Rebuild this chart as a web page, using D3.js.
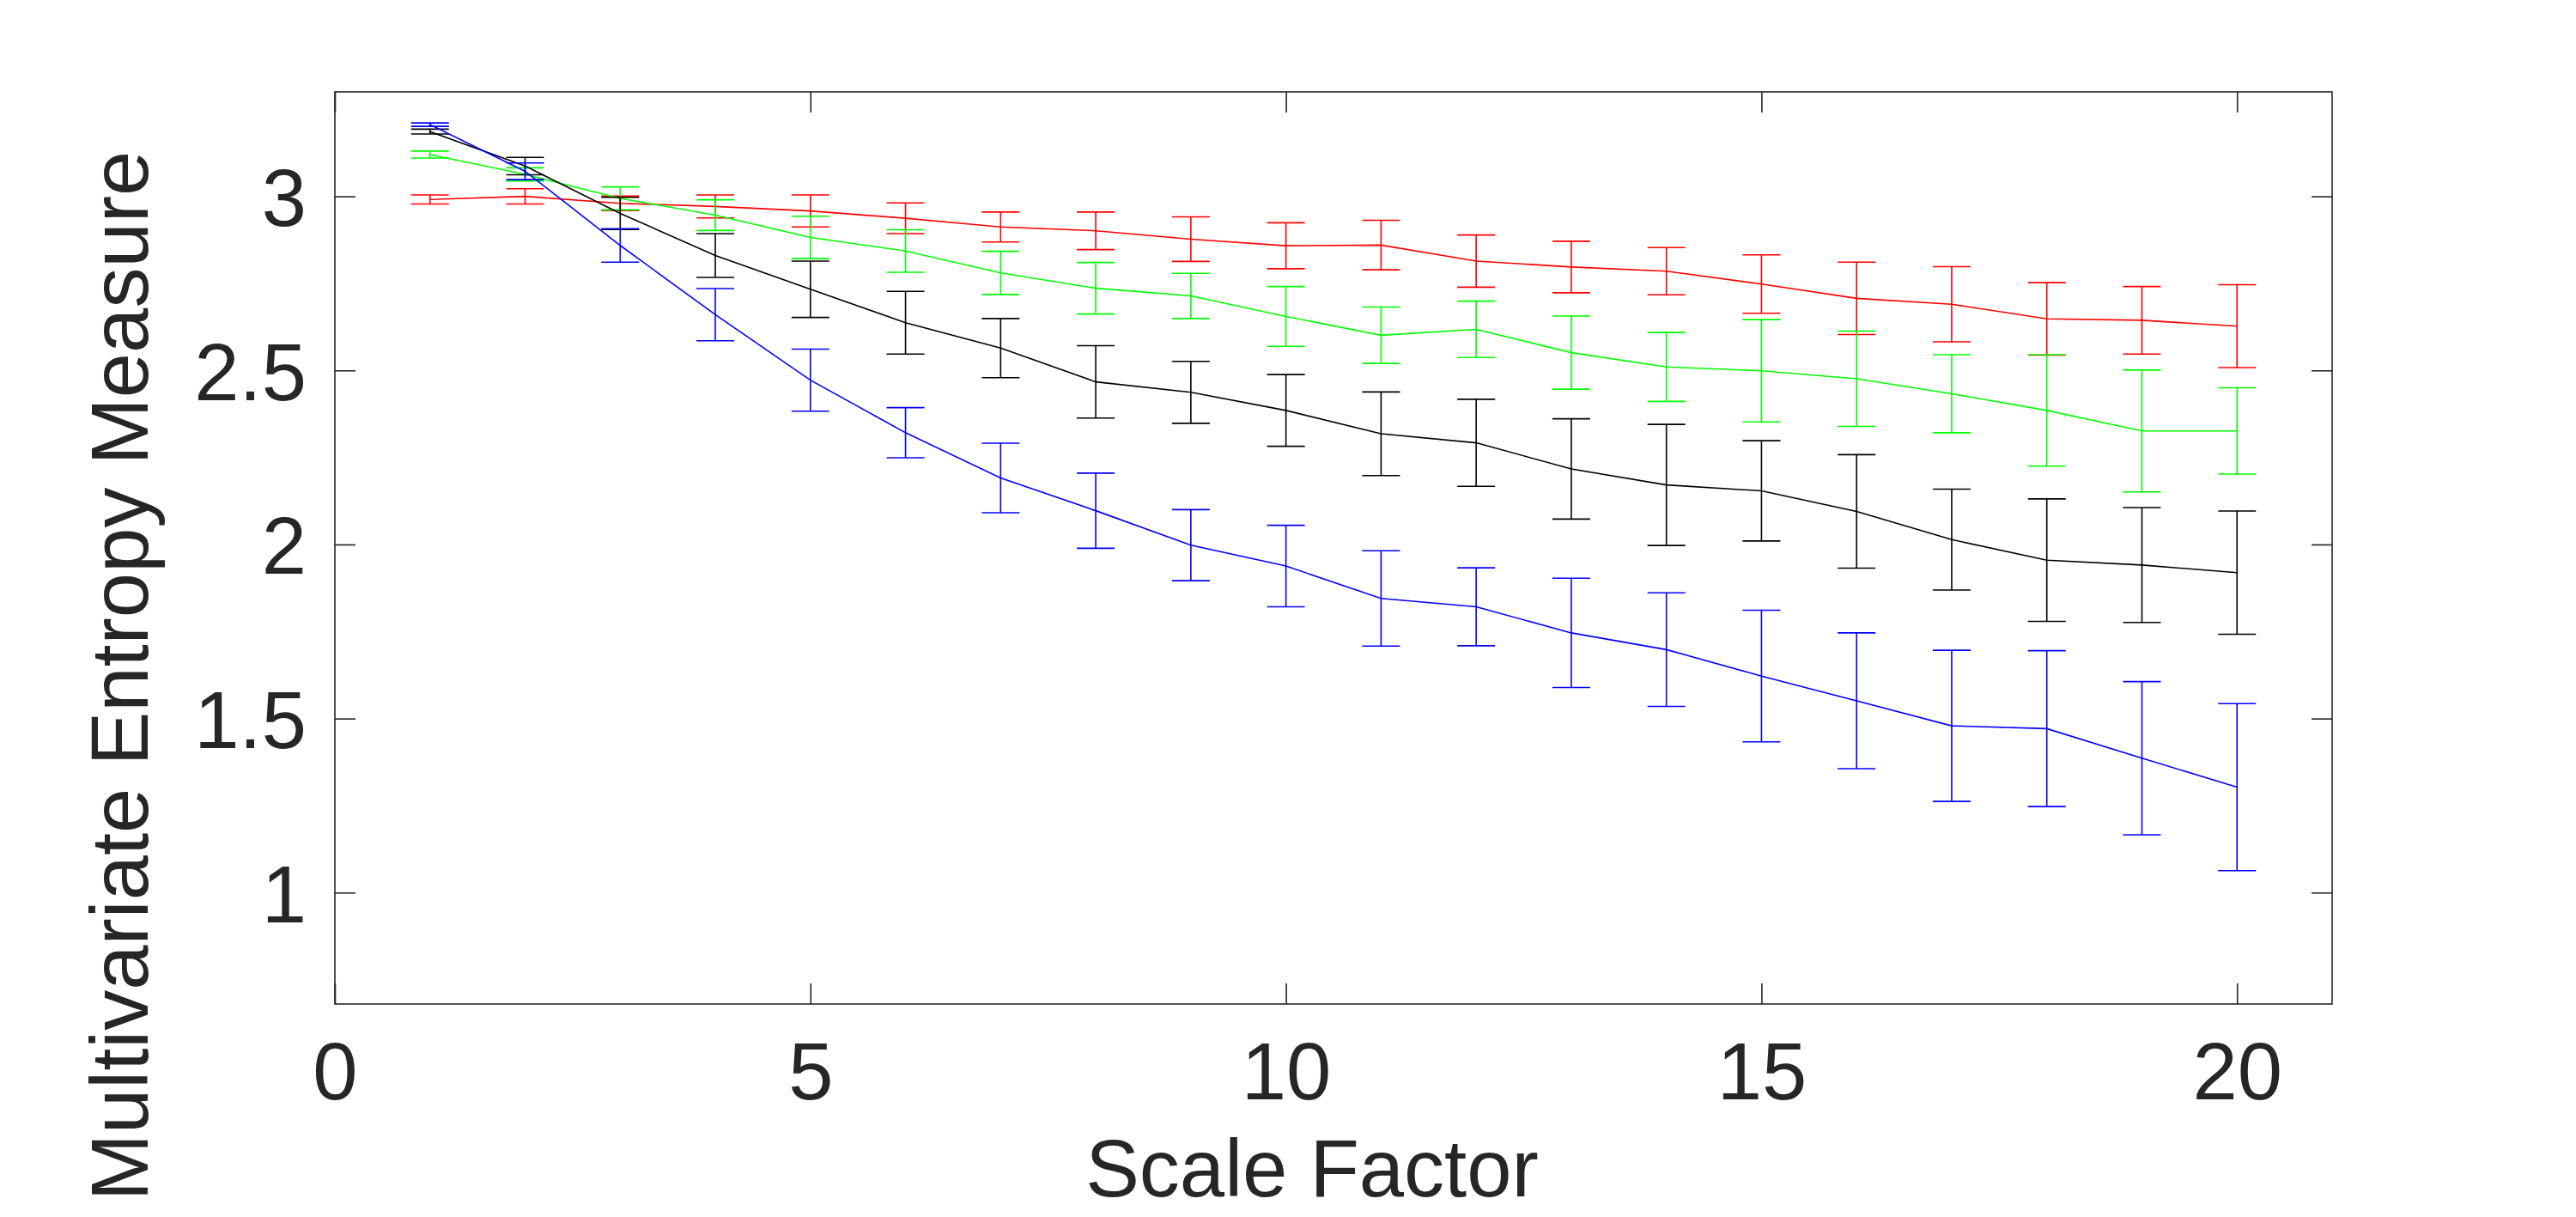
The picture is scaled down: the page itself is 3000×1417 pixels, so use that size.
<!DOCTYPE html>
<html>
<head>
<meta charset="utf-8">
<script src="https://cdn.jsdelivr.net/npm/d3@7"></script>
<style>
  body { margin: 0; background: #fff; }
  svg { display: block; }
  text { font-family: "Liberation Sans", Arial, Helvetica, sans-serif; }
</style>
</head>
<body>
<svg width="3000" height="1417"></svg>
<script>
// scale factors 1..20
const scales = d3.range(1, 21)

const redMean = [2.991, 3.0, 2.980, 2.971, 2.958, 2.937, 2.912, 2.901, 2.877, 2.858, 2.860, 2.814, 2.797, 2.785, 2.748, 2.707, 2.690, 2.648, 2.644, 2.627]
const redErr = [0.013, 0.022, 0.021, 0.033, 0.046, 0.044, 0.043, 0.054, 0.064, 0.066, 0.071, 0.075, 0.074, 0.068, 0.084, 0.104, 0.108, 0.104, 0.097, 0.119]

const greenMean = [3.12, 3.063, 2.994, 2.946, 2.882, 2.843, 2.780, 2.736, 2.714, 2.655, 2.601, 2.618, 2.551, 2.510, 2.499, 2.476, 2.433, 2.385, 2.326, 2.326]
const greenErr = [0.01, 0.019, 0.033, 0.044, 0.061, 0.061, 0.062, 0.074, 0.065, 0.086, 0.081, 0.081, 0.105, 0.099, 0.147, 0.137, 0.112, 0.16, 0.175, 0.124]

const blackMean = [3.186, 3.087, 2.951, 2.830, 2.733, 2.637, 2.564, 2.467, 2.437, 2.385, 2.318, 2.292, 2.217, 2.171, 2.154, 2.095, 2.014, 1.955, 1.941, 1.919]
const blackErr = [0.007, 0.025, 0.046, 0.063, 0.081, 0.09, 0.085, 0.104, 0.089, 0.103, 0.12, 0.125, 0.144, 0.174, 0.144, 0.163, 0.145, 0.176, 0.165, 0.177]

const blueMean = [3.206, 3.072, 2.859, 2.660, 2.472, 2.321, 2.191, 2.097, 1.998, 1.938, 1.845, 1.821, 1.746, 1.698, 1.622, 1.551, 1.479, 1.471, 1.386, 1.303]
const blueErr = [0.005, 0.024, 0.048, 0.075, 0.089, 0.072, 0.1, 0.108, 0.102, 0.117, 0.137, 0.112, 0.157, 0.163, 0.189, 0.195, 0.217, 0.224, 0.22, 0.24]

const xTicks = [0, 5, 10, 15, 20]
const yTicks = [1, 1.5, 2, 2.5, 3]

const xLabel = 'Scale Factor'
const yLabel = 'Multivariate Entropy Measure'

const series = [
  {color: '#ff0000', mean: redMean, err: redErr},
  {color: '#00ff00', mean: greenMean, err: greenErr},
  {color: '#000000', mean: blackMean, err: blackErr},
  {color: '#0000ff', mean: blueMean, err: blueErr}
]

const margin = {top: 107, left: 390, right: 284, bottom: 248}
const axisColor = '#262626'
const fontSize = 94
const tickLen = 24
const capHalf = 22

const svg = d3.select('svg')
const width = svg.attr('width') - margin.left - margin.right
const height = svg.attr('height') - margin.top - margin.bottom

const g = svg.append('g')
  .attr('transform', 'translate(' + margin.left + ',' + margin.top + ')')

const xScale = d3.scaleLinear().domain([0, 21]).range([0, width])
const yScale = d3.scaleLinear().domain([0.68, 3.3]).range([height, 0])

const styleAxis = (sel) => {
  sel.select('.domain').remove()
  sel.selectAll('line').attr('stroke', axisColor).attr('stroke-width', 1.6)
  sel.selectAll('text')
    .attr('fill', axisColor)
    .style('font-size', fontSize + 'px')
}

// bottom axis with labels
g.append('g')
  .attr('transform', 'translate(0,' + height + ')')
  .call(d3.axisBottom(xScale).tickValues(xTicks).tickSizeInner(-tickLen).tickSizeOuter(0).tickPadding(44).tickFormat(d3.format('d')))
  .call(styleAxis)

// top axis, ticks only
g.append('g')
  .call(d3.axisTop(xScale).tickValues(xTicks).tickSizeInner(-tickLen).tickSizeOuter(0).tickFormat(''))
  .call(styleAxis)

// left axis with labels
g.append('g')
  .call(d3.axisLeft(yScale).tickValues(yTicks).tickSizeInner(-tickLen).tickSizeOuter(0).tickPadding(33).tickFormat(d3.format('')))
  .call(styleAxis)
  .selectAll('text').attr('dy', '0.36em')

// right axis, ticks only
g.append('g')
  .attr('transform', 'translate(' + width + ',0)')
  .call(d3.axisRight(yScale).tickValues(yTicks).tickSizeInner(-tickLen).tickSizeOuter(0).tickFormat(''))
  .call(styleAxis)

// box
g.append('rect')
  .attr('width', width)
  .attr('height', height)
  .attr('fill', 'none')
  .attr('stroke', axisColor)
  .attr('stroke-width', 1.6)

const line = d3.line()
  .x(d => xScale(d.x))
  .y(d => yScale(d.y))

series.forEach(s => {
  const pts = scales.map((x, i) => ({x: x, y: s.mean[i], e: s.err[i]}))
  const sg = g.append('g').attr('stroke', s.color).attr('stroke-width', 1.6).attr('fill', 'none')

  sg.append('path').datum(pts).attr('d', line)

  const bars = sg.selectAll('g.bar').data(pts).enter().append('g').attr('class', 'bar')
  bars.append('line')
    .attr('x1', d => xScale(d.x)).attr('x2', d => xScale(d.x))
    .attr('y1', d => yScale(d.y - d.e)).attr('y2', d => yScale(d.y + d.e))
  bars.append('line')
    .attr('x1', d => xScale(d.x) - capHalf).attr('x2', d => xScale(d.x) + capHalf)
    .attr('y1', d => yScale(d.y + d.e)).attr('y2', d => yScale(d.y + d.e))
  bars.append('line')
    .attr('x1', d => xScale(d.x) - capHalf).attr('x2', d => xScale(d.x) + capHalf)
    .attr('y1', d => yScale(d.y - d.e)).attr('y2', d => yScale(d.y - d.e))
})

// axis titles
svg.append('text')
  .attr('x', 1528)
  .attr('y', 1393)
  .attr('text-anchor', 'middle')
  .attr('fill', axisColor)
  .style('font-size', fontSize + 'px')
  .text(xLabel)

svg.append('text')
  .attr('transform', 'translate(172,787) rotate(-90)')
  .attr('text-anchor', 'middle')
  .attr('fill', axisColor)
  .style('font-size', fontSize + 'px')
  .text(yLabel)
</script>
</body>
</html>
